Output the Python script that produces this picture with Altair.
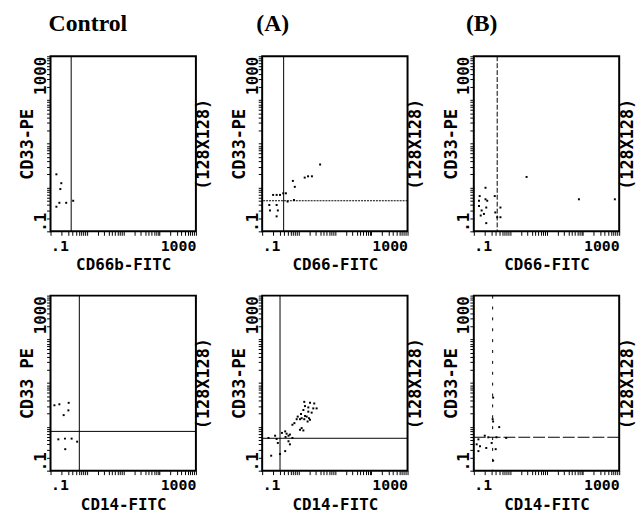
import altair as alt
import pandas as pd

# ---------------- data ----------------
# Top row: CD66(b)-FITC vs CD33-PE
ctrl_top_x = [0.145, 0.198, 0.186, 0.175, 0.145, 0.27, 0.42]
ctrl_top_y = [2.01, 1.26, 0.925, 0.449, 0.365, 0.449, 0.50]
ctrl_top_vgate = 0.37

a_top_x = [3.93, 1.48, 1.83, 2.34, 0.70, 0.79, 0.20, 0.25, 0.31, 0.38, 0.50, 0.75,
           0.157, 0.164, 0.25, 0.27, 0.25, 0.45]
a_top_y = [3.37, 1.69, 1.81, 1.81, 1.42, 1.04, 0.68, 0.68, 0.68, 0.74, 0.48, 0.52,
           0.40, 0.30, 0.40, 0.30, 0.22, 0.74]
a_top_vgate = 0.39
a_top_hgate = 0.50

b_top_x = [2.83, 0.21, 0.145, 0.21, 0.234, 0.139, 0.377, 0.139, 0.164, 0.22, 0.54,
           0.155, 0.22, 0.44, 0.54, 0.39, 0.19, 78, 760]
b_top_y = [1.75, 0.99, 0.64, 0.54, 0.50, 0.50, 0.64, 0.38, 0.30, 0.35, 0.35,
           0.23, 0.154, 0.21, 0.21, 0.27, 0.25, 0.54, 0.54]
b_top_vgate = 0.44

# Bottom row: CD14-FITC vs CD33-PE
ctrl_bot_x = [0.128, 0.175, 0.316, 0.31, 0.23, 0.164, 0.25, 0.38, 0.254, 0.54]
ctrl_bot_y = [3.12, 3.29, 3.55, 2.39, 1.86, 0.52, 0.54, 0.54, 0.31, 0.46]
ctrl_bot_vgate = 0.62
ctrl_bot_hgate = 0.79

a_bot_x = [1.44, 2.07, 2.71, 1.51, 1.86, 2.55, 3.15, 1.36, 1.86, 2.30, 1.17, 1.51,
           0.95, 1.22, 1.68, 1.94, 2.07, 0.89, 1.10, 1.44, 1.78, 0.77, 0.68, 1.22,
           1.36, 1.10, 0.43, 0.47, 0.53, 0.58, 0.44, 0.68, 0.53, 0.58, 0.43, 0.177,
           0.227, 0.149, 0.25, 0.35, 0.27, 0.31]
a_bot_y = [3.74, 3.55, 3.43, 2.99, 2.79, 2.65, 2.65, 2.43, 2.23, 2.12, 1.98, 1.78,
           1.72, 1.58, 1.72, 1.58, 1.45, 1.50, 1.50, 1.50, 1.33, 1.22, 1.12, 0.94,
           0.83, 0.86, 0.79, 0.70, 0.63, 0.67, 0.59, 0.56, 0.47, 0.40, 0.28, 0.22,
           0.63, 0.56, 0.53, 0.73, 0.43, 0.24]
a_bot_vgate = 0.31
a_bot_hgate = 0.55

b_bot_x = [0.34, 0.33, 0.34, 0.50, 0.20, 0.25, 0.42, 0.134, 0.148, 0.22, 0.40,
           0.134, 0.12, 0.31, 0.78, 0.34]
b_bot_y = [4.68, 1.50, 1.33, 0.99, 0.63, 0.58, 0.58, 0.52, 0.36, 0.33, 0.31,
           0.28, 0.40, 0.43, 0.56, 0.17]
b_bot_vgate = 0.33
b_bot_hgate = 0.58

x_titles_top = ["CD66b-FITC", "CD66-FITC", "CD66-FITC"]
x_titles_bot = ["CD14-FITC", "CD14-FITC", "CD14-FITC"]
y_titles_top = ["CD33-PE", "CD33-PE", "CD33-PE"]
y_titles_bot = ["CD33 PE", "CD33-PE", "CD33-PE"]
panel_titles = ["Control", "(A)", "(B)"]
right_title = "(128X128)"
tick_values = [m * 10 ** e for e in range(-1, 3) for m in range(1, 10)] + [1000]

# ---------------- styling ----------------
MONO = "DejaVu Sans Mono"
W, H = 147, 177
scale = alt.Scale(type="log", domain=[0.1, 1000], nice=False)
LABEL_EXPR = "datum.value < 0.15 ? '.1' : (datum.value > 999 ? '1000' : '')"


def x_axis(title):
    return alt.Axis(
        title=title, values=tick_values, labelExpr=LABEL_EXPR, labelFlush=True,
        labelOverlap=False, grid=False, domain=False, tickSize=4, tickColor="black",
        tickWidth=1, labelFont=MONO, labelFontWeight="bold", labelFontSize=15,
        labelColor="black", labelPadding=3, titleFont=MONO, titleFontWeight="bold",
        titleFontSize=16, titleColor="black", titleY=34, titleBaseline="middle",
    )


def y_axis_left(title):
    return alt.Axis(
        title=title, orient="left", values=tick_values, labelExpr=LABEL_EXPR,
        labelOverlap=False, labelAngle=270, labelBaseline="bottom",
        labelAlign={"condition": {"test": "datum.value < 0.15", "value": "left"},
                    "value": "right"},
        grid=False, domain=False, tickSize=4, tickColor="black", tickWidth=1,
        labelFont=MONO, labelFontWeight="bold", labelFontSize=16,
        labelColor="black", labelPadding=-2, titleFont=MONO, titleFontWeight="bold",
        titleFontSize=17, titleColor="black", titleX=-23, titleBaseline="middle",
    )


def y_axis_right():
    return alt.Axis(
        title=right_title, orient="right", labels=False, ticks=False, domain=False,
        grid=False, titleAngle=270, titleBaseline="middle", titleX=8,
        titleFont=MONO, titleFontWeight="bold", titleFontSize=17, titleColor="black",
    )


def panel(xs, ys, xtitle, ytitle, vgate, vdash=None, hgate=None, hdash=None,
          title=None, title_dx=-4):
    df = pd.DataFrame({"x": xs, "y": ys})
    base = alt.Chart(df)
    xax = x_axis(xtitle)
    pts = base.mark_square(size=4, color="black", opacity=1).encode(
        x=alt.X("x:Q", scale=scale, axis=xax),
        y=alt.Y("y:Q", scale=scale, axis=y_axis_left(ytitle)),
    )
    ghost = base.mark_point(opacity=0).encode(
        x=alt.X("x:Q", scale=scale, axis=xax),
        y=alt.Y("y:Q", scale=scale, axis=y_axis_right()),
    )
    vkw = {"color": "black", "strokeWidth": 1}
    if vdash:
        vkw["strokeDash"] = vdash
    vrule = alt.Chart(pd.DataFrame({"x": [vgate]})).mark_rule(**vkw).encode(
        x=alt.X("x:Q", scale=scale, axis=xax)
    )
    layers = [pts, ghost, vrule]
    if hgate is not None:
        hkw = {"color": "black", "strokeWidth": 1}
        if hdash:
            hkw["strokeDash"] = hdash
        hrule = alt.Chart(pd.DataFrame({"h": [hgate]})).mark_rule(**hkw).encode(
            y=alt.Y("h:Q", scale=scale, axis=None)
        )
        layers.append(hrule)
    props = {"width": W, "height": H}
    if title:
        props["title"] = alt.TitleParams(
            text=title, anchor="start", frame="group", font="Liberation Serif",
            fontSize=24, fontWeight="bold", color="black", offset=20, dx=title_dx,
        )
    return alt.layer(*layers).resolve_axis(y="independent").properties(**props)


top = alt.hconcat(
    panel(ctrl_top_x, ctrl_top_y, x_titles_top[0], y_titles_top[0], ctrl_top_vgate,
          title=panel_titles[0], title_dx=-2),
    panel(a_top_x, a_top_y, x_titles_top[1], y_titles_top[1], a_top_vgate,
          hgate=a_top_hgate, hdash=[2, 1], title=panel_titles[1], title_dx=-6),
    panel(b_top_x, b_top_y, x_titles_top[2], y_titles_top[2], b_top_vgate,
          vdash=[5, 2], title=panel_titles[2], title_dx=-8),
    spacing=17,
)
bottom = alt.hconcat(
    panel(ctrl_bot_x, ctrl_bot_y, x_titles_bot[0], y_titles_bot[0], ctrl_bot_vgate,
          hgate=ctrl_bot_hgate),
    panel(a_bot_x, a_bot_y, x_titles_bot[1], y_titles_bot[1], a_bot_vgate,
          hgate=a_bot_hgate),
    panel(b_bot_x, b_bot_y, x_titles_bot[2], y_titles_bot[2], b_bot_vgate,
          vdash=[3, 8], hgate=b_bot_hgate, hdash=[12, 3]),
    spacing=17,
)

chart = alt.vconcat(top, bottom, spacing=20).configure(
    background="white",
    padding={"left": 10, "top": 0, "right": 0, "bottom": 0},
).configure_view(stroke="black", strokeWidth=2)

chart.save("out.html", embed_options={"renderer": "svg", "actions": False})
